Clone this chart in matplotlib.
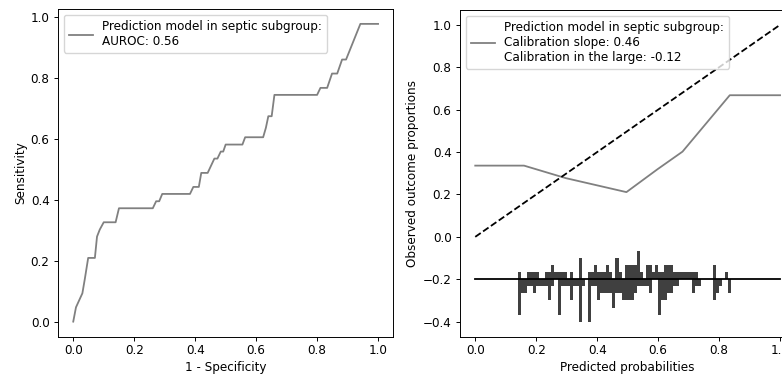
import numpy as np
import matplotlib
matplotlib.use("Agg")
import matplotlib.pyplot as plt

S = 0.864
plt.rcParams.update({
    "font.family": ["DejaVu Sans"],
    "font.size": 10 * S,
    "axes.linewidth": 0.8 * S,
    "xtick.major.width": 0.8 * S,
    "ytick.major.width": 0.8 * S,
    "xtick.major.size": 3.5 * S,
    "ytick.major.size": 3.5 * S,
    "xtick.major.pad": 3.0 * S,
    "ytick.major.pad": 3.5 * S,
    "axes.labelpad": 3.0 * S,
    "lines.linewidth": 1.5 * S,
})

# ROC curve (1 - specificity, sensitivity)
fpr = [0.0, 0.009, 0.03, 0.038, 0.049, 0.071, 0.078, 0.087, 0.10, 0.139, 0.15,
       0.261, 0.272, 0.282, 0.292, 0.383, 0.394, 0.412, 0.42, 0.441, 0.463,
       0.473, 0.484, 0.492, 0.50, 0.555, 0.564, 0.623, 0.632, 0.64, 0.651,
       0.66, 0.80, 0.811, 0.833, 0.849, 0.866, 0.882, 0.895, 0.942, 1.0]
tpr = [0.0, 0.047, 0.093, 0.140, 0.209, 0.209, 0.279, 0.302, 0.326, 0.326, 0.372,
       0.372, 0.395, 0.395, 0.419, 0.419, 0.442, 0.442, 0.488, 0.488, 0.535,
       0.535, 0.558, 0.558, 0.581, 0.581, 0.605, 0.605, 0.636, 0.674, 0.674,
       0.744, 0.744, 0.767, 0.767, 0.814, 0.814, 0.860, 0.860, 0.977, 0.977]

# Calibration curve
cal_x = [0.0, 0.16, 0.297, 0.496, 0.598, 0.68, 0.835, 1.0]
cal_y = [0.336, 0.336, 0.277, 0.211, 0.319, 0.402, 0.668, 0.668]

# Histogram of predicted probabilities (counts per 0.01 bin from 0.14),
# events drawn upward, non-events downward from the baseline
bin_start = 0.14
events = [1, 0, 0, 1, 1, 1, 1, 0, 0, 1,
          1, 2, 1, 1, 1, 1, 0, 1, 0, 0,
          3, 0, 0, 1, 1, 2, 1, 1, 1, 2,
          1, 0, 3, 1, 0, 2, 2, 2, 2, 4,
          1, 0, 2, 2, 1, 2, 1, 1, 2, 2,
          2, 1, 1, 1, 1, 1, 1, 1, 1, 0,
          0, 0, 0, 0, 2, 0, 0, 0, 1, 0,
          0]
nonevents = [5, 2, 2, 1, 1, 2, 1, 1, 1, 1,
             3, 1, 0, 5, 1, 1, 1, 3, 1, 1,
             6, 1, 0, 6, 1, 1, 3, 2, 2, 2,
             2, 4, 2, 2, 3, 3, 3, 3, 2, 1,
             1, 1, 1, 2, 0, 0, 5, 3, 3, 2,
             2, 1, 1, 0, 0, 0, 0, 2, 1, 1,
             0, 0, 0, 0, 3, 2, 1, 0, 0, 2,
             0]
line_bins = -0.2
unit = 0.2 / 6

fig = plt.figure(figsize=(7.82, 3.76), dpi=100)
ax1 = fig.add_axes([58 / 782, 39.5 / 376, 335.3 / 782, 327.5 / 376])
ax2 = fig.add_axes([460 / 782, 39.5 / 376, 335.3 / 782, 326.5 / 376])

ax1.plot(fpr, tpr, color="grey",
         label="Prediction model in septic subgroup:\nAUROC: 0.56")
ax1.set_xlabel("1 - Specificity")
ax1.set_ylabel("Sensitivity")
ax1.legend(loc="upper left")

ax2.plot(cal_x, cal_y, color="grey",
         label="Prediction model in septic subgroup:\nCalibration slope: 0.46\nCalibration in the large: -0.12")
ax2.plot([0, 1], [0, 1], color="black", linestyle="--")
ax2.plot([0, 1], [line_bins, line_bins], color="black", zorder=3)
n = len(events)
bx = bin_start + 0.01 * np.arange(n)
ax2.bar(bx, np.array(events) * unit, width=0.01, bottom=line_bins,
        align="edge", color="#404040", zorder=2)
ax2.bar(bx, -np.array(nonevents) * unit, width=0.01, bottom=line_bins,
        align="edge", color="#404040", zorder=2)
ax2.set_xlabel("Predicted probabilities")
ax2.set_ylabel("Observed outcome proportions")
ax2.legend(loc="upper left")

fig.savefig("out.png", dpi=100)
